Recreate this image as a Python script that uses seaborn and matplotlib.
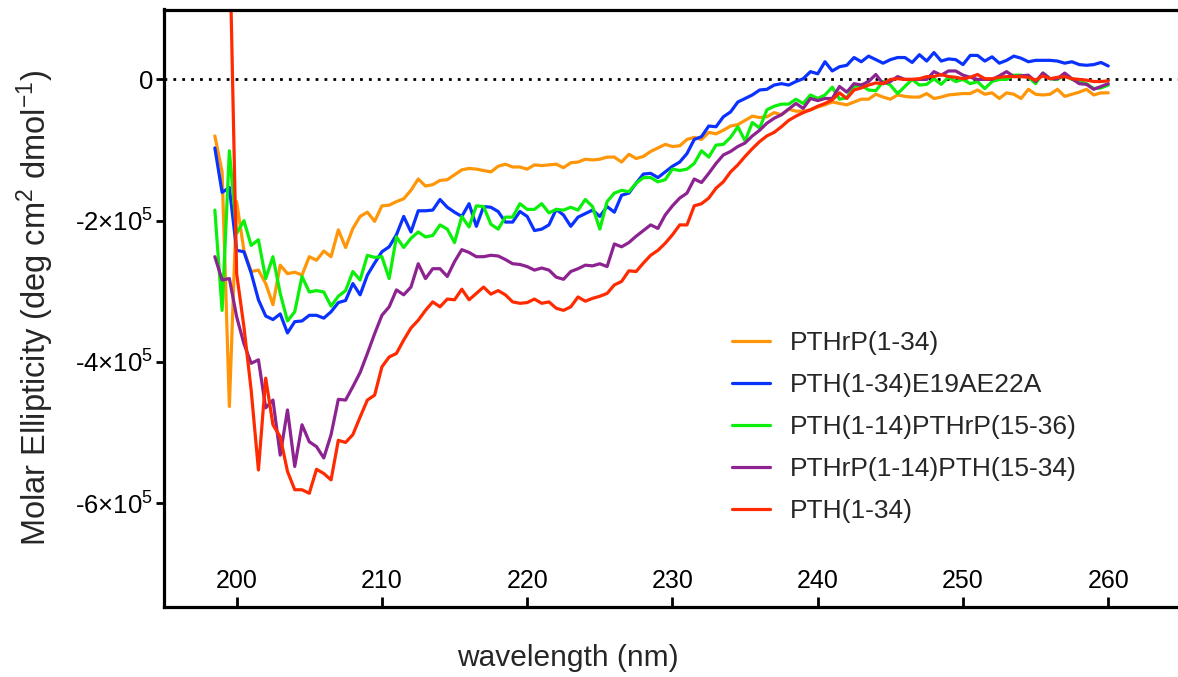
import numpy as np
import pandas as pd
import matplotlib
matplotlib.use("Agg")
import matplotlib.pyplot as plt
from matplotlib.ticker import FuncFormatter
import seaborn as sns

# wavelength grid of the CD scans (nm), 0.5 nm steps
wavelength = np.arange(198.5, 260.5, 0.5)

# molar ellipticity in units of 1e3 deg cm2 dmol-1
pthrp_1_34 = [
    -80, -131, -463, -173, -242, -272, -270, -289, -319, -263,
    -275, -273, -277, -251, -256, -243, -251, -213, -238, -211,
    -194, -188, -201, -179, -178, -173, -169, -157, -141, -151,
    -149, -143, -142, -135, -128, -126, -127, -129, -131, -123,
    -120, -124, -124, -127, -121, -122, -121, -120, -125, -118,
    -117, -113, -114, -113, -110, -110, -117, -106, -112, -109,
    -102, -97, -92, -95, -94, -85, -82, -85, -75, -77,
    -72, -66, -64, -58, -52, -54, -53, -47, -50, -42,
    -45, -45, -43, -39, -36, -32, -34, -36, -32, -28,
    -28, -21, -25, -28, -22, -24, -25, -25, -20, -27,
    -25, -22, -21, -20, -20, -15, -21, -19, -27, -19,
    -21, -27, -14, -21, -22, -21, -14, -24, -21, -18,
    -14, -22, -19, -19,
]
pth_e19ae22a = [
    -97, -160, -153, -242, -244, -274, -312, -335, -340, -332,
    -359, -343, -342, -334, -334, -338, -329, -316, -313, -289,
    -305, -277, -260, -244, -237, -220, -194, -216, -186, -186,
    -185, -170, -181, -188, -194, -176, -208, -180, -181, -187,
    -202, -202, -187, -194, -214, -212, -206, -184, -192, -208,
    -195, -190, -185, -194, -180, -188, -164, -161, -147, -134,
    -133, -139, -131, -123, -117, -105, -85, -81, -66, -67,
    -53, -46, -32, -27, -22, -15, -14, -8, -6, -8,
    -3, 1, 11, 8, 25, 12, 18, 20, 31, 25,
    33, 28, 23, 28, 31, 31, 24, 35, 26, 38,
    26, 29, 28, 21, 34, 34, 26, 32, 23, 27,
    33, 30, 25, 27, 27, 27, 26, 23, 25, 21,
    20, 21, 24, 19,
]
pth14_pthrp = [
    -185, -327, -101, -218, -200, -235, -227, -282, -251, -303,
    -342, -329, -279, -301, -299, -301, -321, -307, -299, -272,
    -284, -249, -252, -251, -282, -223, -238, -225, -216, -223,
    -221, -206, -212, -231, -194, -209, -179, -180, -205, -212,
    -195, -195, -176, -184, -184, -176, -189, -184, -185, -181,
    -185, -170, -180, -212, -173, -161, -157, -159, -147, -139,
    -139, -145, -142, -127, -129, -127, -119, -101, -110, -93,
    -92, -82, -67, -87, -61, -69, -43, -38, -35, -35,
    -28, -34, -22, -27, -22, -11, -28, -26, -10, -8,
    -15, -16, -3, -8, -20, -10, 0, -8, -7, 1,
    -7, 3, -3, 0, -6, -3, -13, -3, 0, 0,
    6, 6, 3, -6, 9, 1, 0, 6, 0, -3,
    -6, -13, -12, -8,
]
pthrp14_pth = [
    -251, -284, -282, -336, -374, -402, -397, -465, -454, -532,
    -468, -548, -489, -513, -520, -536, -503, -453, -454, -435,
    -415, -388, -360, -334, -322, -298, -305, -294, -261, -282,
    -268, -268, -279, -258, -241, -245, -251, -251, -249, -250,
    -255, -261, -262, -265, -270, -267, -270, -280, -283, -272,
    -268, -263, -264, -261, -265, -233, -237, -231, -222, -214,
    -206, -211, -192, -179, -168, -161, -141, -146, -133, -119,
    -107, -102, -95, -90, -80, -72, -62, -55, -50, -42,
    -34, -41, -27, -30, -27, -27, -10, -18, -6, -8,
    -3, 7, -6, -3, 4, 0, 0, 0, 0, 11,
    6, 12, 12, 6, 3, 0, 0, 0, 5, 11,
    4, 5, 6, -3, 9, 1, 1, 9, 1, -6,
    -7, -14, -10, -6,
]
pth_1_34 = [
    np.nan, np.nan, 215, -275, -350, -440, -553, -423, -489, -506,
    -555, -581, -581, -586, -552, -558, -567, -511, -514, -503,
    -478, -454, -447, -407, -393, -388, -369, -352, -341, -327,
    -315, -322, -311, -312, -297, -312, -303, -294, -304, -299,
    -305, -315, -317, -316, -311, -317, -315, -324, -327, -322,
    -308, -314, -310, -307, -303, -291, -286, -271, -272, -260,
    -249, -242, -232, -220, -206, -206, -179, -176, -168, -154,
    -145, -131, -121, -109, -98, -88, -80, -75, -67, -58,
    -52, -47, -43, -38, -34, -29, -19, -27, -15, -12,
    -8, -5, -6, 0, 1, 0, 0, 1, 4, 4,
    7, 4, 3, 1, 3, 7, 1, 1, 3, 4,
    4, 4, 3, -1, 5, 1, 3, 4, 1, 0,
    -1, -3, -3, -2,
]

peptides = ["PTHrP(1-34)", "PTH(1-34)E19AE22A", "PTH(1-14)PTHrP(15-36)",
            "PTHrP(1-14)PTH(15-34)", "PTH(1-34)"]
series = [pthrp_1_34, pth_e19ae22a, pth14_pthrp, pthrp14_pth, pth_1_34]
colors = ["#FF9608", "#0A32FF", "#0AF00A", "#8C2391", "#FF2A00"]

frames = []
for name, vals in zip(peptides, series):
    frames.append(pd.DataFrame({"wavelength": wavelength,
                                "ellipticity": np.array(vals, dtype=float) * 1e3,
                                "peptide": name}))
df = pd.concat(frames, ignore_index=True)

sns.set_style("ticks")
plt.rcParams["font.family"] = ["Liberation Sans", "DejaVu Sans"]
plt.rcParams["mathtext.fontset"] = "custom"
plt.rcParams["mathtext.rm"] = "Liberation Sans"
plt.rcParams["mathtext.it"] = "Liberation Sans:italic"

fig = plt.figure(figsize=(11.78, 6.77), dpi=100)
ax = fig.add_axes([164 / 1178, 1 - 607 / 677, 1 - 164 / 1178, (607 - 9.5) / 677])

ax.axhline(0, color="black", linewidth=2, linestyle=(0, (1, 2.2)), zorder=1)
sns.lineplot(data=df, x="wavelength", y="ellipticity", hue="peptide",
             hue_order=peptides, palette=colors, estimator=None,
             linewidth=2.3, ax=ax, zorder=2)

ax.set_xlim(195, 264.8)
ax.set_ylim(-7.47e5, 0.99e5)
ax.set_xticks([200, 210, 220, 230, 240, 250, 260])
ax.set_yticks([0, -2e5, -4e5, -6e5])


def sci_fmt(v, pos):
    if v == 0:
        return "0"
    return "-%d×10$^5$" % round(abs(v) / 1e5)


ax.yaxis.set_major_formatter(FuncFormatter(sci_fmt))

for side in ["top", "left", "bottom"]:
    ax.spines[side].set_linewidth(2.3)
    ax.spines[side].set_color("black")
ax.spines["right"].set_visible(False)

ax.tick_params(axis="x", direction="in", length=7, width=2, pad=-27,
               labelsize=18, colors="black")
ax.tick_params(axis="y", direction="out", length=6, width=2, pad=2,
               labelsize=18.5, colors="black")

ax.set_xlabel("wavelength (nm)", fontsize=21.5)
ax.xaxis.set_label_coords(0.3984, -0.062)
ax.set_ylabel("Molar Ellipticity (deg cm$^2$ dmol$^{-1}$)", fontsize=23.5)
ax.yaxis.set_label_coords(-0.107, 0.5)

handles, labels = ax.get_legend_handles_labels()
ax.legend(handles, labels, frameon=False, fontsize=19, handlelength=1.45,
          handletextpad=0.75, labelspacing=0.68, loc="upper left",
          bbox_to_anchor=(732 / 1178, 1 - 331 / 677), bbox_transform=fig.transFigure,
          borderpad=0, borderaxespad=0)

fig.savefig("out.png", dpi=100)
